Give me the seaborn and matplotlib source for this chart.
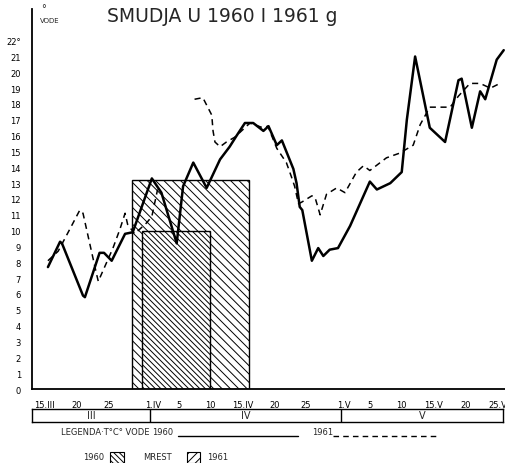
"""
Smudja (grayling) spawning and water temperature, 1960 and 1961
Redrawn from a hand-drawn field chart
"""

import matplotlib.pyplot as plt
import matplotlib.patches as mpatches
import matplotlib.lines as mlines
import seaborn as sns
import pandas as pd

# Set style
sns.set_style("white")
plt.rcParams['font.family'] = ['DejaVu Sans']
plt.rcParams['hatch.linewidth'] = 0.7

# Days are counted from 1 March (1.IV = 32, 1.V = 62)
days_1960 = [15.5, 17.4, 17.7, 21.0, 21.3, 23.6, 24.3, 25.5, 27.6, 28.8,
             31.8, 33.3, 35.7, 36.7, 38.3, 40.4, 42.5, 44.0, 45.1, 46.4,
             47.7, 49.3, 50.1, 51.4, 52.2, 54.0, 54.5, 55.0, 55.4, 56.9,
             57.9, 58.7, 59.7, 61.0, 62.9, 66.0, 67.1, 69.2, 71.0, 71.8,
             73.1, 75.4, 77.8, 79.9, 80.4, 82.0, 83.3, 84.1, 85.9, 87.0]
temp_1960 = [7.7, 9.3, 9.2, 5.9, 5.8, 8.6, 8.6, 8.1, 9.8, 9.9,
             13.3, 12.4, 9.2, 12.8, 14.3, 12.7, 14.5, 15.3, 16.0, 16.8,
             16.8, 16.3, 16.6, 15.4, 15.7, 13.9, 13.0, 11.5, 11.3, 8.1,
             8.9, 8.4, 8.8, 8.9, 10.3, 13.1, 12.6, 13.0, 13.7, 17.0,
             21.0, 16.5, 15.6, 19.5, 19.6, 16.5, 18.8, 18.3, 20.8, 21.4]

days_1961 = [15.5, 17.1, 19.2, 20.5, 21.0, 23.1, 23.4, 25.7, 26.8, 27.6,
             28.0, 29.1, 31.0, 31.8, 32.7, 38.5, 39.8, 41.2, 41.4, 41.7,
             42.5, 43.5, 44.8, 47.2, 49.2, 50.0, 51.4, 52.9, 53.7, 54.2,
             54.8, 55.3, 56.9, 57.4, 58.2, 59.2, 60.8, 62.1, 63.9, 65.0,
             66.0, 68.6, 70.7, 72.8, 73.9, 75.4, 76.7, 78.6, 79.9, 81.7,
             83.3, 84.9, 86.4]
temp_1961 = [8.1, 8.7, 10.3, 11.3, 11.1, 7.3, 6.8, 8.9, 10.1, 11.1,
             10.4, 9.8, 10.5, 10.9, 12.6, 18.3, 18.4, 17.3, 16.3, 15.6,
             15.3, 15.6, 15.9, 16.8, 16.5, 16.6, 15.2, 14.3, 13.4, 12.8,
             11.7, 11.8, 12.2, 12.1, 11.0, 12.3, 12.7, 12.4, 13.7, 14.1,
             13.8, 14.6, 14.9, 15.4, 16.7, 17.8, 17.8, 17.8, 18.5, 19.3,
             19.3, 19.0, 19.3]
gap_1961 = 35  # the 1961 record has a break here

# Spawning (mrest) periods
spawn_years = ['1960', '1961']
spawn_start = [28.7, 30.2]
spawn_end = [47.0, 41.0]
spawn_temp = [13.2, 10.0]

tick_days = [15, 20, 25, 32, 36, 41, 46, 51, 56, 62, 66, 71, 76, 81, 86]
tick_labels = ['15.III', '20', '25', '1.IV', '5', '10', '15.IV', '20', '25',
               '1.V', '5', '10', '15.V', '20', '25.V']
months = ['III', 'IV', 'V']
month_edges = [13.0, 31.5, 61.5, 86.9]
temp_ticks = list(range(0, 23))

W, H = 506, 464


def box(x0, y0, x1, y1):
    """Pixel box (top-left origin) -> figure rect"""
    return [x0 / W, 1 - y1 / H, (x1 - x0) / W, (y1 - y0) / H]


fig = plt.figure(figsize=(W / 100, H / 100), dpi=100)
ax = fig.add_axes(box(32, 10, 505, 390))
band = fig.add_axes(box(32, 410, 503, 423))

# Spawning bars
hatches = ['\\' * 4, '\\' * 6]
for i in range(len(spawn_years)):
    ax.bar(spawn_start[i], spawn_temp[i], width=spawn_end[i] - spawn_start[i],
           align='edge', facecolor='white', edgecolor='black',
           hatch=hatches[i], linewidth=1.0, zorder=1)

# Water temperature lines
df60 = pd.DataFrame({'day': days_1960, 'temp': temp_1960})
sns.lineplot(data=df60, x='day', y='temp', color='black', linewidth=1.8,
             estimator=None, sort=False, ax=ax, zorder=3)

df61 = pd.DataFrame({'day': days_1961, 'temp': temp_1961})
df61['seg'] = (df61['day'] > gap_1961).astype(int)
sns.lineplot(data=df61, x='day', y='temp', units='seg', estimator=None,
             color='black', linewidth=1.1, linestyle=(0, (4, 3)),
             sort=False, ax=ax, zorder=3)

ax.set_xlim(13.0, 87.2)
ax.set_ylim(0, 24)
ax.set_xlabel('')
ax.set_ylabel('')
for side in ['top', 'right']:
    ax.spines[side].set_visible(False)
for side in ['left', 'bottom']:
    ax.spines[side].set_color('black')
    ax.spines[side].set_linewidth(1.3)

ax.set_yticks(temp_ticks + [24])
ax.set_yticklabels([str(t) for t in temp_ticks[:-1]] + ['22°', ''])
ax.tick_params(axis='y', direction='out', length=5, width=0.8,
               labelsize=6, pad=3, colors='black')

ax.set_xticks(tick_days)
ax.set_xticklabels(tick_labels)
ax.set_xticks(range(14, 88), minor=True)
ax.tick_params(axis='x', which='major', direction='out', length=4,
               width=0.8, labelsize=6, pad=4, colors='black')
ax.tick_params(axis='x', which='minor', direction='out', length=3,
               width=0.6, colors='black')

fig.text(41 / W, 1 - 9 / H, '°', fontsize=7, va='center')
fig.text(40 / W, 1 - 21 / H, 'VODE', fontsize=5, va='center')
fig.text(107 / W, 1 - 17 / H, 'SMUDJA U 1960 I 1961 g', fontsize=13.5,
         va='center', ha='left')

# Month band
band.set_xlim(month_edges[0], month_edges[-1])
band.set_ylim(0, 1)
band.set_xticks([])
band.set_yticks([])
for side in band.spines.values():
    side.set_linewidth(1.0)
    side.set_color('black')
for edge in month_edges[1:-1]:
    band.axvline(edge, color='black', linewidth=1.0)
for i, m in enumerate(months):
    band.text((month_edges[i] + month_edges[i + 1]) / 2, 0.5, m,
              ha='center', va='center', fontsize=7)

# Legend, row 1
row1 = 1 - 433 / H
fig.text(61 / W, row1, 'LEGENDA·T°C° VODE', fontsize=6, va='center')
fig.text(152 / W, row1, '1960', fontsize=6, va='center')
fig.add_artist(mlines.Line2D([178 / W, 298 / W], [row1 - 0.008] * 2,
                             transform=fig.transFigure, color='black', lw=1))
fig.text(312 / W, row1, '1961', fontsize=6, va='center')
fig.add_artist(mlines.Line2D([333 / W, 437 / W], [row1 - 0.008] * 2,
                             transform=fig.transFigure, color='black', lw=1,
                             linestyle=(0, (4, 3))))

# Legend, row 2
row2 = 1 - 458 / H
fig.text(83 / W, row2, spawn_years[0], fontsize=6, va='center')
fig.add_artist(mpatches.Rectangle((110 / W, 1 - 464 / H), 14 / W, 11 / H,
                                  transform=fig.transFigure, facecolor='white',
                                  edgecolor='black', hatch=hatches[1], lw=0.8))
fig.text(143 / W, row2, 'MREST', fontsize=6, va='center')
fig.add_artist(mpatches.Rectangle((187 / W, 1 - 464 / H), 13 / W, 11 / H,
                                  transform=fig.transFigure, facecolor='white',
                                  edgecolor='black', hatch='////', lw=0.8))
fig.text(207 / W, row2, spawn_years[1], fontsize=6, va='center')

fig.savefig('out.png', dpi=100)
